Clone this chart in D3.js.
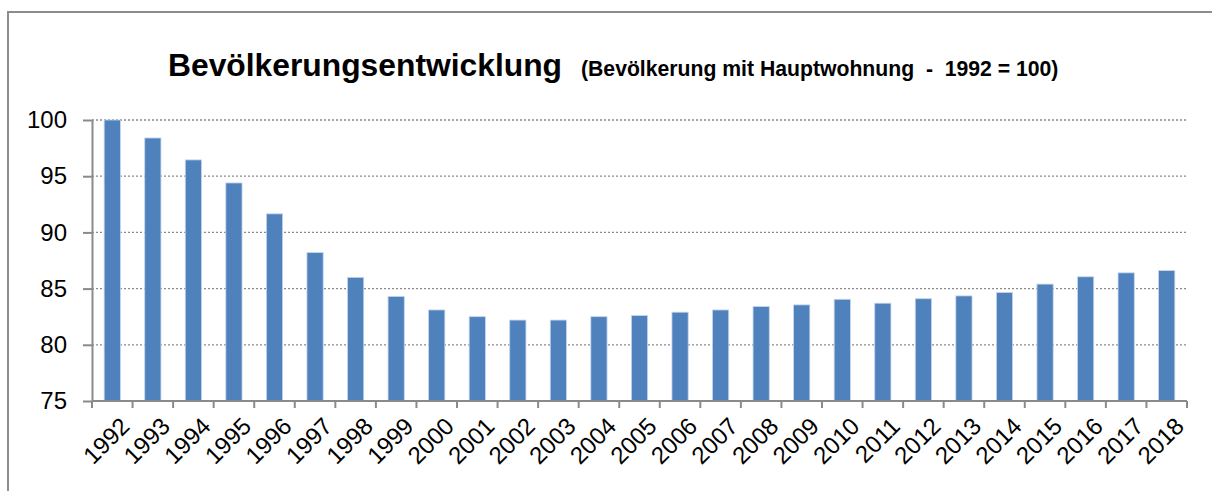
<!DOCTYPE html>
<html>
<head>
<meta charset="utf-8">
<script src="https://cdn.jsdelivr.net/npm/d3@7"></script>
<style>
  body { margin: 0; background: #fff; }
  svg { display: block; font-family: "Liberation Sans", Arial, sans-serif; }
</style>
</head>
<body>
<div id="chart"></div>
<script>
// data (1992 = 100)
var years = ['1992','1993','1994','1995','1996','1997','1998','1999','2000','2001','2002','2003','2004',
  '2005','2006','2007','2008','2009','2010','2011','2012','2013','2014','2015','2016','2017','2018'];
var values = [100, 98.4, 96.45, 94.4, 91.65, 88.2, 86.0, 84.3, 83.1, 82.5, 82.2, 82.2, 82.5,
  82.6, 82.9, 83.1, 83.4, 83.55, 84.05, 83.7, 84.1, 84.35, 84.65, 85.4, 86.05, 86.4, 86.6];
var yTicks = [75, 80, 85, 90, 95, 100];

var width = 1212, height = 491;
var margin = {left: 92, right: 25, top: 120, bottom: 90};

var svg = d3.select('#chart').append('svg')
    .attr('width', width)
    .attr('height', height);

// outer frame, runs off the right and bottom edge
svg.append('rect')
    .attr('x', 8).attr('y', 12)
    .attr('width', 1220).attr('height', 500)
    .style('fill', 'none')
    .style('stroke', '#8c8c8c')
    .style('stroke-width', 2);

var x = d3.scaleBand()
    .domain(years)
    .range([margin.left, 1187])
    .paddingInner(0.6)
    .paddingOuter(0.3);

var y = d3.scaleLinear()
    .domain([75, 100])
    .range([401, margin.top]);

// grid lines
svg.append('g').selectAll('line')
    .data(yTicks.slice(1))
    .enter().append('line')
    .attr('x1', margin.left).attr('x2', 1187)
    .attr('y1', function(d) { return y(d); })
    .attr('y2', function(d) { return y(d); })
    .style('stroke', '#8a8a8a')
    .style('stroke-width', 1.3)
    .style('stroke-dasharray', '2,2');

// bars
svg.append('g').selectAll('rect')
    .data(values)
    .enter().append('rect')
    .attr('x', function(d, i) { return x(years[i]); })
    .attr('y', function(d) { return y(d); })
    .attr('width', x.bandwidth())
    .attr('height', function(d) { return y(75) - y(d); })
    .style('fill', '#4f81bd')
    .style('stroke', '#c5d5ea')
    .style('stroke-width', 0.8);

// y axis
var yAxis = svg.append('g')
    .attr('transform', 'translate(' + margin.left + ',0)')
    .call(d3.axisLeft(y).tickValues(yTicks).tickSize(9).tickPadding(16).tickSizeOuter(0));
yAxis.selectAll('text').style('font-size', '24px').style('fill', '#000');

// x axis, ticks between the bars
var xAxis = svg.append('g')
    .attr('transform', 'translate(0,401)');
xAxis.append('line')
    .attr('x1', margin.left).attr('x2', 1187)
    .style('stroke', '#8a8a8a').style('stroke-width', 2);
xAxis.selectAll('line.tick')
    .data(d3.range(years.length + 1))
    .enter().append('line')
    .attr('class', 'tick')
    .attr('x1', function(i) { return margin.left + i * (1187 - margin.left) / years.length; })
    .attr('x2', function(i) { return margin.left + i * (1187 - margin.left) / years.length; })
    .attr('y1', 0).attr('y2', 7)
    .style('stroke', '#8a8a8a').style('stroke-width', 2);
xAxis.selectAll('text')
    .data(years)
    .enter().append('text')
    .attr('transform', function(d) {
      return 'translate(' + (x(d) + x.bandwidth() / 2 + 6) + ',14) rotate(-45)';
    })
    .attr('text-anchor', 'end')
    .attr('dy', '0.75em')
    .style('font-size', '24px')
    .text(function(d) { return d; });

yAxis.select('.domain').style('stroke', '#8a8a8a').style('stroke-width', 2);
yAxis.selectAll('.tick line').style('stroke', '#8a8a8a').style('stroke-width', 2);

// title
var title = svg.append('text')
    .attr('x', 168).attr('y', 76)
    .style('font-weight', 'bold');
title.append('tspan')
    .style('font-size', '31.8px')
    .text('Bevölkerungsentwicklung');
title.append('tspan')
    .attr('x', 581)
    .style('font-size', '21.2px')
    .style('white-space', 'pre')
    .attr('xml:space', 'preserve')
    .text('(Bevölkerung mit Hauptwohnung  -  1992 = 100)');
</script>
</body>
</html>
